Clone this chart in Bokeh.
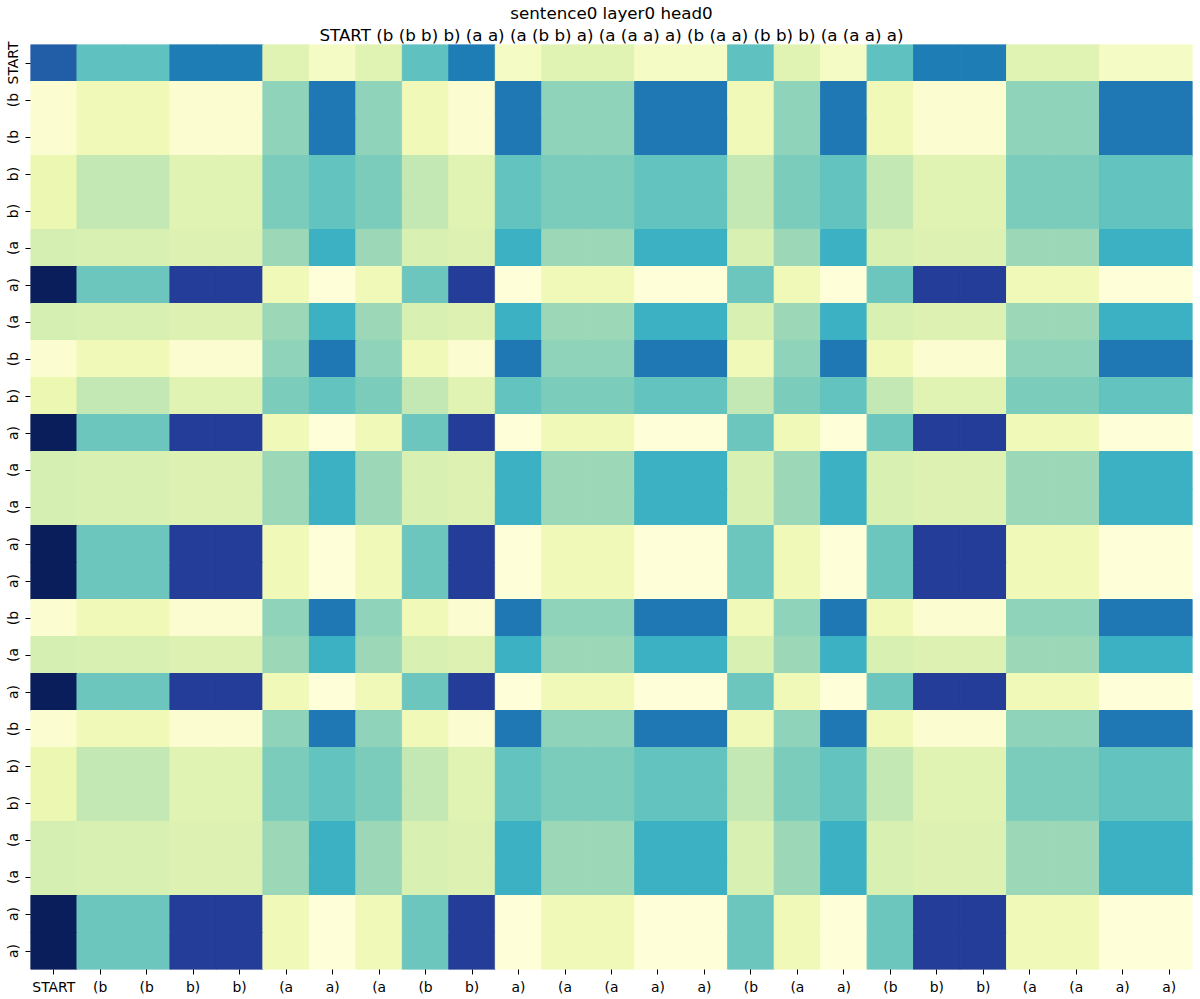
import numpy as np
from bokeh.plotting import figure
from bokeh.models import ColumnDataSource, FixedTicker, Range1d, Title
from bokeh.transform import linear_cmap
from bokeh.embed import file_html
from bokeh.resources import INLINE

# ---- data ----
title_line1 = "sentence0 layer0 head0"
title_line2 = "START (b (b b) b) (a a) (a (b b) a) (a (a a) a) (b (a a) (b b) b) (a (a a) a)"

tokens = ["START", "(b", "(b", "b)", "b)", "(a", "a)", "(a", "(b", "b)", "a)",
          "(a", "(a", "a)", "a)", "(b", "(a", "a)", "(b", "b)", "b)",
          "(a", "(a", "a)", "a)"]

token_types = ["START", "(b", "b)", "(a", "a)"]

# attention strength (on the colour scale 0..1) by query type (row) x key type (column)
# columns ordered as token_types: START, (b, b), (a, a)
row_START = [0.750, 0.440, 0.674, 0.171, 0.070]
row_open_b = [0.030, 0.105, 0.030, 0.351, 0.686]
row_close_b = [0.130, 0.255, 0.171, 0.379, 0.431]
row_open_a = [0.207, 0.194, 0.181, 0.326, 0.517]
row_close_a = [0.995, 0.413, 0.845, 0.105, 0.005]

type_rows = {"START": row_START, "(b": row_open_b, "b)": row_close_b,
             "(a": row_open_a, "a)": row_close_a}

# ---- build cells ----
xs, ys, vals = [], [], []
for i, rt in enumerate(tokens):
    for j, ct in enumerate(tokens):
        xs.append(j)
        ys.append(i)
        vals.append(type_rows[rt][token_types.index(ct)])
src = ColumnDataSource(dict(x=xs, y=ys, v=vals))

# YlGnBu colormap (light -> dark), interpolated to 256 steps
anchors = ["#ffffd9", "#edf8b1", "#c7e9b4", "#7fcdbb", "#41b6c4",
           "#1d91c0", "#225ea8", "#253494", "#081d58"]
rgb = np.array([[int(h[k:k + 2], 16) for k in (1, 3, 5)] for h in anchors], float)
pos = np.linspace(0, 1, len(anchors))
tt = np.linspace(0, 1, 256)
pal = []
for t in tt:
    c = [np.interp(t, pos, rgb[:, k]) for k in range(3)]
    pal.append("#%02x%02x%02x" % tuple(int(round(v)) for v in c))

n = len(tokens)
p = figure(width=1200, height=999,
           x_range=Range1d(-0.5, n - 0.5), y_range=Range1d(n - 0.5, -0.5),
           output_backend="svg", toolbar_location=None, title=None,
           min_border_left=30, min_border_right=8, min_border_top=1,
           min_border_bottom=30)

cmap = linear_cmap("v", pal, 0, 1)
p.rect(x="x", y="y", width=1, height=1, source=src,
       fill_color=cmap, line_color=cmap, line_width=1,
       fill_alpha=1.0, line_alpha=1.0)

p.add_layout(Title(text=title_line2, align="center", text_font="DejaVu Sans",
                   text_font_size="16.7px", text_font_style="normal",
                   text_color="black", standoff=0, offset=0), "above")
p.add_layout(Title(text=title_line1, align="center", text_font="DejaVu Sans",
                   text_font_size="16.7px", text_font_style="normal",
                   text_color="black", standoff=0, offset=0), "above")

labels = {i: tok for i, tok in enumerate(tokens)}
for ax in (p.xaxis[0], p.yaxis[0]):
    ax.ticker = FixedTicker(ticks=list(range(n)))
    ax.major_label_overrides = labels
    ax.axis_label = None
    ax.axis_label_standoff = 0
    ax.axis_line_color = None
    ax.minor_tick_line_color = None
    ax.major_tick_out = 5
    ax.major_tick_in = 0
    ax.major_tick_line_color = "black"
    ax.major_label_text_font = "DejaVu Sans"
    ax.major_label_text_font_size = "13.9px"
    ax.major_label_text_color = "black"
p.xaxis.major_label_standoff = 4
p.yaxis.major_label_standoff = 5
p.yaxis.major_label_orientation = "vertical"

p.grid.visible = False
p.outline_line_color = None
p.background_fill_color = "white"
p.border_fill_color = "white"

open("out.html", "w").write(file_html(p, INLINE))
